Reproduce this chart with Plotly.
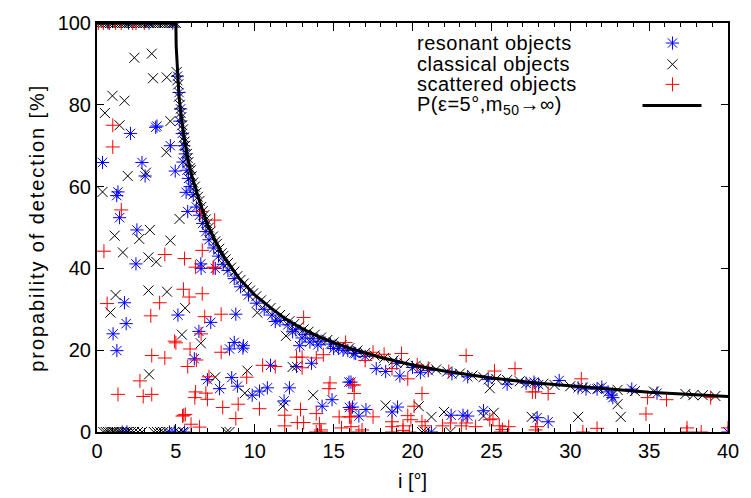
import plotly.graph_objects as go

# ---------------- data ----------------
# classical objects (black x)
cla_x = [0.1, 0.25, 0.4, 0.55, 0.7, 0.85, 1.0, 1.15, 1.3, 1.45, 1.6, 1.75, 1.9, 2.05, 2.2, 2.35, 2.5, 2.65,
         2.8, 2.95, 3.1, 3.25, 3.4, 3.55, 3.7, 3.85, 4.0, 4.15, 4.3, 4.45, 4.6, 4.75, 4.9, 5.0,
         0.4, 0.55, 0.7, 0.85, 1.0, 1.1, 1.25, 1.4, 1.55, 1.75, 1.95, 2.15, 2.35, 2.6, 2.85, 3.6, 3.8, 4.0,
         4.2, 4.45, 5.2, 5.45, 8.2, 8.4, 20.6, 20.8, 22.4,
         2.37, 3.47, 3.55, 4.42, 0.98, 1.74, 0.5, 1.43, 4.65, 4.4, 3.1, 1.95, 0.35, 5.23, 3.35, 1.12, 2.68,
         4.65, 1.64, 3.26, 3.76, 1.18, 0.85, 3.26, 4.44, 5.59, 5.38, 6.58, 3.3, 7.5, 9.53, 9.37, 10.16,
         11.98, 12.4, 13.7, 11.78, 18.3, 20.4, 21.2, 22.0, 24.5, 25.15, 27.56, 24.9, 30.5, 33.2, 33.0,
         5.05, 5.1, 5.15, 5.2, 5.25, 5.3, 5.35, 5.4, 5.45, 5.5, 5.55, 5.6, 5.7, 5.75, 5.8, 5.9, 5.95, 6.0,
         6.1, 6.2, 6.3, 6.4, 6.5, 6.6, 6.7, 6.8, 6.9, 7.0, 7.1, 7.2, 7.35, 7.5, 7.6, 7.75, 7.9, 8.0, 8.15,
         8.3, 8.5, 8.7, 8.9, 9.1, 9.3, 9.5, 9.7, 9.9, 10.1, 10.4, 10.7, 11.0, 11.3, 11.6, 11.9, 12.2, 12.5,
         12.8, 13.1, 13.4, 13.8, 14.2, 14.6, 15.0, 15.5, 16.0, 16.5, 17.0, 17.6, 18.2, 18.8, 19.5, 20.2,
         20.8, 21.5, 22.2, 23.0, 23.8, 24.5, 25.3, 26.0, 26.8, 27.5, 28.3, 29.0, 30.0, 30.8, 31.8, 33.0,
         34.1, 35.3, 37.3, 37.8, 38.4, 39.2]
cla_y = [100] * 34 + [0] * 27 + \
        [91.5, 92.5, 86.5, 86.7, 82.2, 81, 78, 75, 76, 68.4, 63.4, 62.6, 58.7, 52.1, 49.4, 48, 47.2,
         46.8, 43.9, 42.7, 41.6, 33.5, 29.2, 34.6, 34.3, 30.3, 23.8, 21.7, 14.1, 13.4, 15, 9.5, 29.2,
         23.5, 15.9, 9, 6.3, 6.5, 6.3, 3.7, 4.9, 3.9, 4.7, 3.7, 10.7, 3.7, 3.7, 6.8,
         88, 86, 85, 82, 80, 78, 77, 75, 74, 72, 71, 70, 68, 67, 66, 64.5, 64, 62.5,
         61, 60, 58.5, 57.5, 56.5, 55, 54, 53, 52, 51, 50, 49, 47.8, 46.6, 46, 44.8, 43.7, 43, 42.2,
         41.3, 40.2, 39.2, 38.1, 37.2, 36.3, 35.4, 34.6, 33.9, 33.2, 32.2, 31.2, 30.3, 29.5, 28.6, 27.8, 27.1, 26.4,
         25.7, 25.1, 24.5, 23.8, 23.1, 22.5, 21.9, 21.2, 20.5, 19.9, 19.3, 18.7, 18.1, 17.5, 16.8, 16.2,
         15.8, 15.3, 14.8, 14.3, 13.8, 13.4, 13.0, 12.7, 12.4, 12.1, 11.8, 11.5, 11.2, 10.9, 10.6, 10.3,
         10.0, 9.9, 9.3, 9.0, 9.0, 8.8]

# resonant objects (blue asterisk)
res_x = [0.7, 2.0, 3.3, 4.8,
         1.6, 1.9, 4.6, 4.9, 5.55, 21.2, 40.0,
         0.35, 2.85, 3.05, 4.96, 1.33, 1.25, 5.65, 1.43, 5.75, 2.53, 2.47, 6.58, 6.6, 7.5, 2.12, 3.72, 3.8,
         4.65, 1.74, 5.13, 1.85, 7.21, 1.02, 6.46, 1.26, 6.17, 7.0, 8.8, 8.7, 8.4, 9.28, 9.25, 12.85, 12.65,
         13.6, 11.0, 8.54, 7.77, 8.9, 9.84, 10.3, 10.8, 12.2, 11.86, 14.9, 14.27, 15.97, 16.0, 16.1, 16.2,
         16.6, 17.05, 18.7, 19.05, 22.45, 23.2, 23.5, 24.5, 27.9, 28.6, 17.7, 18.3, 19.2, 20.5, 32.4,
         32.6, 32.7,
         5.1, 5.2, 5.3, 5.25, 5.4, 5.5, 5.6, 5.45, 5.7, 5.8, 5.9, 6.1, 6.3, 6.5, 6.7, 6.9, 7.1, 7.4, 7.7,
         8.0, 8.3, 8.7, 9.1, 9.6, 10.1, 10.6, 11.1, 11.6, 12.1, 12.6, 13.2, 13.7, 14.2, 14.8, 15.3, 15.9,
         16.4, 17.0, 19.0, 20.0, 21.0, 22.5, 23.5, 24.8, 26.0, 27.2, 27.7, 28.0, 29.3, 30.5, 31.0, 31.7,
         32.0, 33.9, 35.5, 13.0, 13.5, 14.0, 15.0, 15.6, 16.3, 11.3, 12.4]
res_y = [100, 100, 100, 100,
         0, 0, 0, 0, 0, 0, 0,
         65.9, 65.9, 62.6, 63.8, 58.7, 57.8, 58.6, 52.4, 53.9, 49.4, 41.1, 41.1, 40, 40, 73, 74.5, 74.8,
         70, 31.6, 28.6, 26.5, 26.8, 24, 24.6, 19.9, 17.9, 12.8, 28.8, 21.9, 20.3, 21.1, 20.5, 21.1, 16,
         16.8, 16.3, 13.3, 10.6, 11.2, 9, 10, 10.8, 10.8, 7.6, 7.9, 6.3, 12.2, 6, 12.2, 6.1,
         3.9, 5.5, 4.9, 6.1, 4.1, 4.1, 3.9, 5.2, 3.5, 2.5, 15.5, 14.8, 13.7, 14.5, 9.8,
         9.0, 8.4,
         87, 83, 79, 76, 73, 70, 68, 66, 64, 62, 60, 58, 55, 53, 51, 49, 47, 45, 43,
         41, 39.5, 37.5, 35.5, 33.5, 31.5, 30, 28.6, 27.3, 26.2, 25, 23.8, 22.8, 22.2, 21.5, 20.5, 19.9,
         19.2, 18.5, 16.8, 15.8, 15.0, 14.2, 13.5, 12.8, 11.7, 11.9, 12.2, 11.6, 12.6, 10.8, 10.5, 10.5,
         11.0, 10.5, 9.5, 23.0, 22.0, 21.3, 20.4, 20.0, 19.3, 27.0, 24.5]

# scattered objects (red +)
sca_x = [0.08, 0.4, 0.8, 1.18, 1.54, 2.26, 2.47, 3.0,
         13.9, 16.6, 18.7, 19.8, 25.6, 30.8, 37.4, 38.3, 14.2,
         1.0, 1.0, 1.54, 0.44, 4.3, 5.55, 6.67, 6.25, 7.4, 7.35, 6.58, 7.46, 0.64, 5.48, 5.84, 6.67, 3.97,
         3.41, 6.83, 6.6, 4.92, 5.0, 5.9, 3.47, 4.3, 6.3, 5.75, 2.72, 7.1, 1.33, 2.93, 3.47, 6.25, 6.2,
         6.9, 7.0, 5.42, 5.5, 5.6, 5.96, 6.5, 7.87, 13.1, 7.87, 12.65, 13.0, 13.0, 13.9, 14.35, 10.5,
         11.3, 9.49, 7.97, 8.95, 10.3, 8.8, 11.9, 12.9, 13.9, 12.7, 11.9, 13.1, 14.1, 14.2, 15.35, 15.5,
         16.0, 14.77, 14.7, 16.2, 16.1, 15.76, 19.3, 19.7, 17.0, 18.7, 17.5, 18.2, 16.3, 16.3, 17.5,
         16.1, 16.1, 16.8, 18.7, 18.7, 19.4, 19.7, 19.9, 19.4, 20.1, 20.6, 20.8, 20.6, 21.9, 22.4, 23.1,
         23.4, 24.0, 24.9, 25.5, 25.7, 26.1, 25.1, 27.9, 23.4, 26.5, 25.2, 27.6, 22.3, 30.7, 28.6, 27.8,
         34.9, 36.1, 38.9, 34.8, 27.8, 31.7, 37.4, 40.0, 21.0, 20.3]
sca_y = [100, 100, 100, 100, 100, 100, 100, 100,
         0, 0, 0, 0, 0, 0, 0, 0, 0,
         75, 69.7, 54.3, 44.2, 43.4, 42.4, 44.4, 40.3, 40.3, 40.1, 53.9, 51.8, 31.4, 34.9, 33, 33.8, 31.6,
         28.4, 28.2, 24, 22.2, 21.8, 20.3, 18.7, 18.1, 17.6, 16, 12.5, 13.5, 9.2, 8.7, 9.2, 9.8, 8.4,
         9.5, 8, 3.9, 4.1, 4.3, 1.9, 1.2, 28.8, 28, 19.5, 18.3, 18.3, 15.7, 18.1, 18.9, 16.3,
         16, 13.4, 6, 6.8, 5.7, 3.3, 4.1, 5.5, 4.5, 2.3, 1.5, 2.3, 2, 0.5, 3.7, 1,
         3.7, 12, 10.6, 11.5, 5.5, 21.9, 19.2, 13, 17.5, 15.5, 19.5, 19.0, 11.5, 9.4, 3.7,
         3.7, 1.3, 0.5, 2.5, 1.3, 1.5, 4, 3, 0.4, 6.3, 2.5, 1.5, 9.4, 1.5, 2.2, 1.5,
         2.2, 1.3, 3, 1.5, 0.6, 1.3, 3.2, 1.3, 18.7, 15.5, 14.9, 9.8, 14.8, 13, 9.4, 9.8,
         8.4, 7.9, 8.4, 4.4, 0.5, 0.9, 1, 1, 15.6, 16.4]

# detection probability curve P(eps=5deg, m50 -> inf)
curve_x = [0, 5, 5.02, 5.1, 5.2, 5.3, 5.5, 5.75, 6, 6.5, 7, 7.5, 8, 9, 10, 11, 12, 13, 14, 15, 16, 18,
           20, 22, 25, 28, 31, 35, 40]
curve_y = [100, 100, 94.3, 87.4, 82, 78.5, 72.6, 67, 62.8, 56.4, 50.7, 46.7, 43.1, 37.6, 33.5, 30.4,
           27.5, 25.3, 23.4, 21.9, 20.5, 18.2, 16.4, 14.9, 13.2, 11.9, 10.9, 9.7, 8.7]

legend_labels = ["resonant objects", "classical objects", "scattered objects",
                 "P(ε=5°,m<sub>50</sub>→∞)"]

# ---------------- figure ----------------
FONT = "Liberation Sans, Arial, sans-serif"
BLUE = "#0000ff"
RED = "#ff0000"

res_marker = dict(symbol="asterisk-open", size=11, color=BLUE, line=dict(color=BLUE, width=1))
cla_marker = dict(symbol="x-thin-open", size=10, color="black", line=dict(color="black", width=1))
sca_marker = dict(symbol="cross-thin-open", size=10, color=RED, line=dict(color=RED, width=1))

fig = go.Figure()
fig.add_trace(go.Scatter(x=res_x, y=res_y, mode="markers", name=legend_labels[0], marker=res_marker))
fig.add_trace(go.Scatter(x=cla_x, y=cla_y, mode="markers", name=legend_labels[1], marker=cla_marker))
fig.add_trace(go.Scatter(x=sca_x, y=sca_y, mode="markers", name=legend_labels[2], marker=sca_marker))
fig.add_trace(go.Scatter(x=curve_x, y=curve_y, mode="lines", name=legend_labels[3],
                         line=dict(color="black", width=3)))

# legend drawn gnuplot style (text left, sample right) on an overlay axis 0..1
key_rows = [0.951, 0.899, 0.850, 0.798]
key_sym_x = 0.912
for mk, yy in zip([res_marker, cla_marker, sca_marker], key_rows[:3]):
    fig.add_trace(go.Scatter(x=[key_sym_x], y=[yy], xaxis="x2", yaxis="y2", mode="markers", marker=mk))
fig.add_trace(go.Scatter(x=[0.8645, 0.958], y=[key_rows[3], key_rows[3]], xaxis="x2", yaxis="y2",
                         mode="lines", line=dict(color="black", width=3)))

for lab, yy in zip(legend_labels, key_rows):
    fig.add_annotation(x=0.504, y=yy, xref="paper", yref="paper", xanchor="left", yanchor="middle",
                       text='<span style="letter-spacing:0.5px">' + lab + '</span>', showarrow=False,
                       font=dict(family=FONT, size=20, color="black"))

# axis titles
fig.add_annotation(x=-0.117, y=0.5, xref="paper", yref="paper", textangle=-90, showarrow=False,
                   text='<span style="letter-spacing:1.9px">propability of detection [%]</span>',
                   font=dict(family=FONT, size=20, color="black"))
fig.add_annotation(x=0.5, y=-0.12, xref="paper", yref="paper", showarrow=False, yanchor="middle",
                   text="i [°]", font=dict(family=FONT, size=20, color="black"))

fig.update_layout(
    width=751, height=498,
    margin=dict(l=97, r=12, t=20, b=66),
    paper_bgcolor="white", plot_bgcolor="white",
    showlegend=False, hovermode=False,
    font=dict(family=FONT, size=20, color="black"),
    xaxis=dict(range=[0, 40], tickmode="array", tickvals=[0, 5, 10, 15, 20, 25, 30, 35, 40],
               ticks="inside", ticklen=8, tickwidth=1.2, tickcolor="black",
               minor=dict(dtick=1, tick0=0, ticks="inside", ticklen=4, tickcolor="black", tickwidth=1),
               showline=True, linecolor="black", linewidth=2, mirror="allticks",
               showgrid=False, zeroline=False),
    yaxis=dict(range=[0, 100], tickmode="array", tickvals=[0, 20, 40, 60, 80, 100],
               ticks="inside", ticklen=7, tickwidth=1.2, tickcolor="black",
               showline=True, linecolor="black", linewidth=2, mirror="allticks",
               showgrid=False, zeroline=False),
    xaxis2=dict(overlaying="x", range=[0, 1], visible=False),
    yaxis2=dict(overlaying="y", range=[0, 1], visible=False),
)

fig.write_html("out.html")
